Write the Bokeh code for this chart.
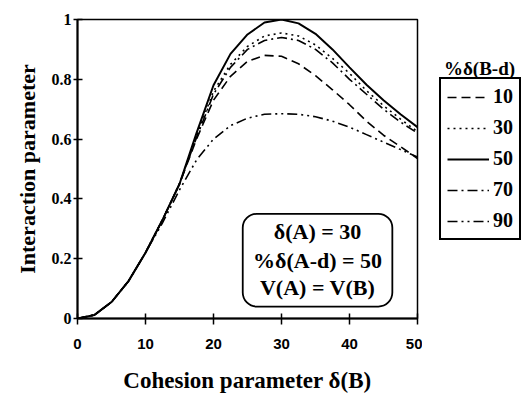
from bokeh.plotting import figure
from bokeh.layouts import row
from bokeh.models import Range1d, FixedTicker, Legend, LegendItem, Label, BoxAnnotation
from bokeh.embed import file_html
from bokeh.resources import INLINE

# ---- data ----
x_vals = [0, 2.5, 5, 7.5, 10, 12.5, 15, 17.5, 20, 22.5, 25, 27.5, 30,
          32.5, 35, 37.5, 40, 42.5, 45, 47.5, 50]
pct_10 = [0, 0.012, 0.055, 0.125, 0.22, 0.33, 0.45, 0.60, 0.73, 0.81, 0.86, 0.88, 0.877,
          0.852, 0.812, 0.765, 0.715, 0.66, 0.613, 0.575, 0.535]
pct_30 = [0, 0.012, 0.055, 0.125, 0.22, 0.33, 0.45, 0.61, 0.76, 0.85, 0.91, 0.945, 0.955,
          0.945, 0.915, 0.87, 0.82, 0.762, 0.712, 0.667, 0.625]
pct_50 = [0, 0.012, 0.055, 0.125, 0.22, 0.33, 0.45, 0.62, 0.78, 0.885, 0.95, 0.99, 1.0,
          0.987, 0.952, 0.9, 0.84, 0.782, 0.73, 0.683, 0.64]
pct_70 = [0, 0.012, 0.055, 0.125, 0.22, 0.33, 0.45, 0.605, 0.75, 0.84, 0.9, 0.93, 0.94,
          0.93, 0.9, 0.855, 0.8, 0.75, 0.7, 0.657, 0.62]
pct_90 = [0, 0.012, 0.055, 0.125, 0.22, 0.32, 0.43, 0.53, 0.60, 0.645, 0.67, 0.683, 0.685,
          0.683, 0.675, 0.66, 0.64, 0.615, 0.59, 0.565, 0.54]
series_names = ["10", "30", "50", "70", "90"]
x_ticks = [0, 10, 20, 30, 40, 50]
y_ticks = [0, 0.2, 0.4, 0.6, 0.8, 1]
y_tick_labels = ["0", "0.2", "0.4", "0.6", "0.8", "1"]
legend_title = "%\u03b4(B-d)"
note_lines = ["\u03b4(A) = 30", "%\u03b4(A-d) = 50", "V(A) = V(B)"]

SERIF = "Liberation Serif"
SANS = "Liberation Sans"

p = figure(width=422, height=395, output_backend="svg", toolbar_location=None,
           x_range=Range1d(0, 50), y_range=Range1d(0, 1),
           min_border_left=77, min_border_right=5, min_border_top=19,
           min_border_bottom=75)
p.grid.visible = False
p.outline_line_color = "black"
p.outline_line_width = 1.5
p.background_fill_color = "white"
p.border_fill_color = "white"

# axes
p.xaxis.ticker = FixedTicker(ticks=x_ticks)
p.yaxis.ticker = FixedTicker(ticks=y_ticks)
p.yaxis.major_label_overrides = {t: l for t, l in zip(y_ticks, y_tick_labels)}
for ax in (p.xaxis[0], p.yaxis[0]):
    ax.axis_line_width = 2
    ax.axis_line_color = "black"
    ax.major_tick_line_width = 1.5
    ax.major_tick_line_color = "black"
    ax.minor_tick_line_color = None
    ax.major_label_text_color = "black"
    ax.axis_label_text_color = "black"
    ax.axis_label_text_font = SERIF
    ax.axis_label_text_font_style = "bold"

p.xaxis.major_tick_in = 5
p.xaxis.major_tick_out = 6
p.xaxis.major_label_text_font = SANS
p.xaxis.major_label_text_font_style = "bold"
p.xaxis.major_label_text_font_size = "15px"
p.xaxis.major_label_standoff = 14
p.xaxis.axis_label = "Cohesion parameter \u03b4(B)"
p.xaxis.axis_label_text_font_size = "23px"
p.xaxis.axis_label_standoff = 16

p.yaxis.major_tick_in = 5
p.yaxis.major_tick_out = 4
p.yaxis.major_label_text_font = SERIF
p.yaxis.major_label_text_font_style = "bold"
p.yaxis.major_label_text_font_size = "16px"
p.yaxis.major_label_standoff = 2
p.yaxis.axis_label = "Interaction parameter"
p.yaxis.axis_label_text_font_size = "22px"
p.yaxis.axis_label_standoff = 9

# curves
styles = [("9 5", 1.6), ("2 4", 1.6), ("solid", 2.0), ("10 4 2 4", 1.6), ("10 4 2 4 2 4", 1.6)]
series = [pct_10, pct_30, pct_50, pct_70, pct_90]
for ys, (dash, w) in zip(series, styles):
    p.line(x_vals, ys, line_color="black", line_width=w, line_dash=dash)

# annotation box
p.add_layout(BoxAnnotation(left=24.3, right=46.3, bottom=0.04, top=0.35,
                           fill_color="white", fill_alpha=1, line_color="black",
                           line_alpha=1, line_width=1.8, border_radius=14))
for txt, yy in zip(note_lines, [0.29, 0.193, 0.103]):
    p.add_layout(Label(x=35.3, y=yy, text=txt, text_align="center", text_baseline="middle",
                       text_font=SERIF, text_font_style="bold", text_font_size="22px",
                       text_color="black"))

# side panel holding the legend (its frame is aligned with the main frame: y 19..320).
# Its ranges lie outside the data, so the proxy lines used by the legend stay hidden.
side = figure(width=105, height=395, output_backend="svg", toolbar_location=None,
              x_range=Range1d(100, 101), y_range=Range1d(100, 101),
              x_axis_location=None, y_axis_location=None,
              min_border_left=0, min_border_right=0, min_border_top=19, min_border_bottom=75)
side.grid.visible = False
side.outline_line_color = None
side.background_fill_color = "white"
side.border_fill_color = "white"

items = []
for name, ys, (dash, w) in zip(series_names, series, styles):
    r = side.line(x_vals, ys, line_color="black", line_width=w, line_dash=dash)
    items.append(LegendItem(label=name, renderers=[r]))

legend = Legend(items=items, location=(17, 78))
legend.label_text_font = SERIF
legend.label_text_font_style = "bold"
legend.label_text_font_size = "20px"
legend.label_text_color = "black"
legend.glyph_width = 42
legend.glyph_height = 20
legend.label_height = 20
legend.label_standoff = 4
legend.spacing = 8
legend.padding = 6
legend.margin = 0
legend.border_line_color = "black"
legend.border_line_alpha = 1
legend.border_line_width = 2
legend.background_fill_color = "white"
legend.background_fill_alpha = 1
side.add_layout(legend)

side.add_layout(Label(x=57, y=250, x_units="screen", y_units="screen",
                      text=legend_title, text_align="center", text_baseline="middle",
                      text_font=SERIF, text_font_style="bold", text_font_size="19px",
                      text_color="black"))

layout = row(p, side, spacing=0)
open("out.html", "w").write(file_html(layout, INLINE))
